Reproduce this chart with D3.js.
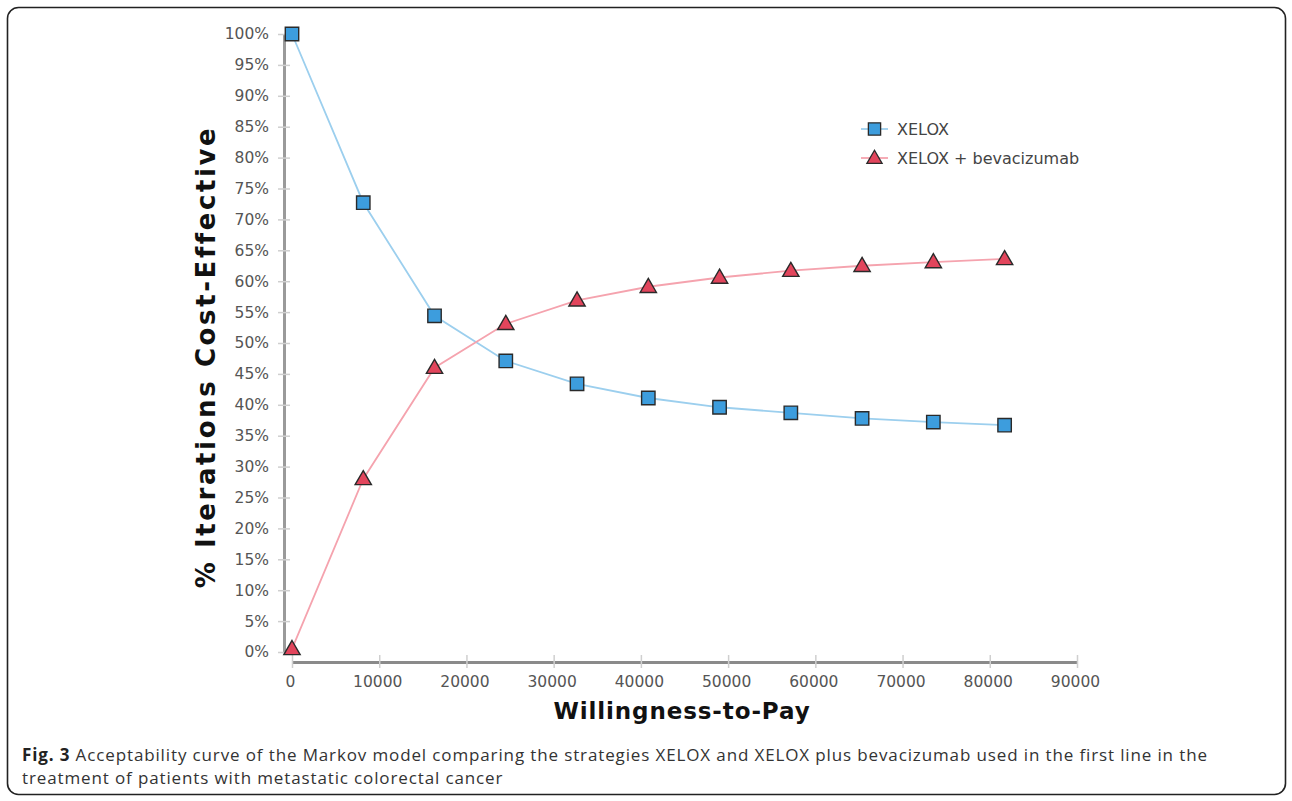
<!DOCTYPE html>
<html>
<head>
<meta charset="utf-8">
<script src="https://cdn.jsdelivr.net/npm/d3@7"></script>
<style>
  body { margin: 0; background: #fff; }
  .tick text { font-family: "DejaVu Sans", sans-serif; font-size: 15.5px; fill: #555; }
</style>
</head>
<body>
<script>
// chart values
const wtp = [0, 8170, 16340, 24510, 32680, 40850, 49020, 57190, 65360, 73530, 81700];
const xelox = [100, 72.7, 54.4, 47.1, 43.4, 41.1, 39.6, 38.7, 37.8, 37.2, 36.7];
const xeloxBev = [0.5, 28.0, 46.0, 53.1, 56.9, 59.1, 60.6, 61.7, 62.5, 63.1, 63.6];
const xTicks = [0, 10000, 20000, 30000, 40000, 50000, 60000, 70000, 80000, 90000];
const yTicks = [0, 5, 10, 15, 20, 25, 30, 35, 40, 45, 50, 55, 60, 65, 70, 75, 80, 85, 90, 95, 100];
const seriesNames = ["XELOX", "XELOX + bevacizumab"];

const W = 1292, H = 801;

const svg = d3.select("body").append("svg")
    .attr("width", W)
    .attr("height", H);

// figure frame
svg.append("rect")
    .attr("x", 7.5).attr("y", 7.5)
    .attr("width", 1278).attr("height", 787)
    .attr("rx", 11)
    .attr("fill", "none")
    .attr("stroke", "#222")
    .attr("stroke-width", 1.6);

const x = d3.scaleLinear().domain([0, 90000]).range([292, 1077]);
const y = d3.scaleLinear().domain([0, 100]).range([652, 34]);
const yAxisX = 284, xAxisY = 662;

// y axis
const gy = svg.append("g")
    .attr("transform", `translate(${yAxisX},0)`)
    .call(d3.axisLeft(y).tickValues(yTicks).tickFormat(d => d + "%")
        .tickSize(6).tickSizeOuter(0).tickPadding(9));
gy.select(".domain").attr("stroke", "#9a9a9a").attr("stroke-width", 3);
gy.selectAll(".tick line").attr("x1", 6).attr("stroke", "#cfcfcf").attr("stroke-width", 1.5);

// x axis
const gx = svg.append("g")
    .attr("transform", `translate(0,${xAxisY})`)
    .call(d3.axisBottom(x).tickValues(xTicks).tickFormat(d3.format("d"))
        .tickSize(6).tickSizeOuter(0).tickPadding(8));
gx.select(".domain").attr("stroke", "#8a8a8a").attr("stroke-width", 3);
gx.selectAll(".tick line").attr("y1", -7).attr("stroke", "#cfcfcf").attr("stroke-width", 1.5);
gx.selectAll(".tick text").attr("x", -2);

// axis titles
svg.append("text")
    .attr("transform", "translate(215,357) rotate(-90)")
    .attr("text-anchor", "middle")
    .attr("font-family", "DejaVu Sans, sans-serif")
    .attr("font-weight", "bold")
    .attr("font-size", 26)
    .attr("letter-spacing", 2.6)
    .attr("fill", "#111")
    .text("% Iterations Cost-Effective");

svg.append("text")
    .attr("x", 682).attr("y", 719)
    .attr("text-anchor", "middle")
    .attr("font-family", "DejaVu Sans, sans-serif")
    .attr("font-weight", "bold")
    .attr("font-size", 23)
    .attr("letter-spacing", 0.9)
    .attr("fill", "#111")
    .text("Willingness-to-Pay");

// series
const series = [
    { name: seriesNames[0], values: xelox, line: "#9ccfee", fill: "#3d9ddd", shape: d3.symbolSquare },
    { name: seriesNames[1], values: xeloxBev, line: "#f5a3ae", fill: "#e2455c", shape: d3.symbolTriangle }
];

const line = d3.line()
    .x((d, i) => x(wtp[i]))
    .y(d => y(d));

series.forEach(s => {
    svg.append("path")
        .attr("d", line(s.values))
        .attr("fill", "none")
        .attr("stroke", s.line)
        .attr("stroke-width", 1.8);
});

series.forEach(s => {
    const sym = d3.symbol().type(s.shape).size(s.shape === d3.symbolSquare ? 180 : 115);
    svg.append("g").selectAll("path")
        .data(s.values)
        .join("path")
        .attr("d", sym)
        .attr("transform", (d, i) => `translate(${x(wtp[i])},${y(d) + (s.shape === d3.symbolTriangle ? 1 : 0)})`)
        .attr("fill", s.fill)
        .attr("stroke", "#2a2a2a")
        .attr("stroke-width", 1.4);
});

// legend
const legend = svg.append("g").attr("transform", "translate(861,129)");
series.forEach((s, i) => {
    const row = legend.append("g").attr("transform", `translate(0,${i * 29})`);
    row.append("line")
        .attr("x1", 0).attr("x2", 27)
        .attr("stroke", s.line).attr("stroke-width", 1.8);
    row.append("path")
        .attr("d", d3.symbol().type(s.shape).size(s.shape === d3.symbolSquare ? 150 : 100))
        .attr("transform", `translate(13.5,${s.shape === d3.symbolTriangle ? 1 : 0})`)
        .attr("fill", s.fill)
        .attr("stroke", "#2a2a2a")
        .attr("stroke-width", 1.3);
    row.append("text")
        .attr("x", 36).attr("y", 5.5)
        .attr("font-family", "DejaVu Sans, sans-serif")
        .attr("font-size", 16)
        .attr("fill", "#444")
        .text(s.name);
});

// caption
const cap = svg.append("g")
    .attr("font-family", "Open Sans, sans-serif")
    .attr("font-size", 17)
    .attr("letter-spacing", 0.87)
    .attr("fill", "#333");
const l1 = cap.append("text").attr("x", 22).attr("y", 761);
l1.append("tspan").attr("font-weight", "bold").attr("fill", "#222").text("Fig. 3");
l1.append("tspan").text(" Acceptability curve of the Markov model comparing the strategies XELOX and XELOX plus bevacizumab used in the first line in the");
cap.append("text").attr("x", 22).attr("y", 784)
    .text("treatment of patients with metastatic colorectal cancer");
</script>
</body>
</html>
